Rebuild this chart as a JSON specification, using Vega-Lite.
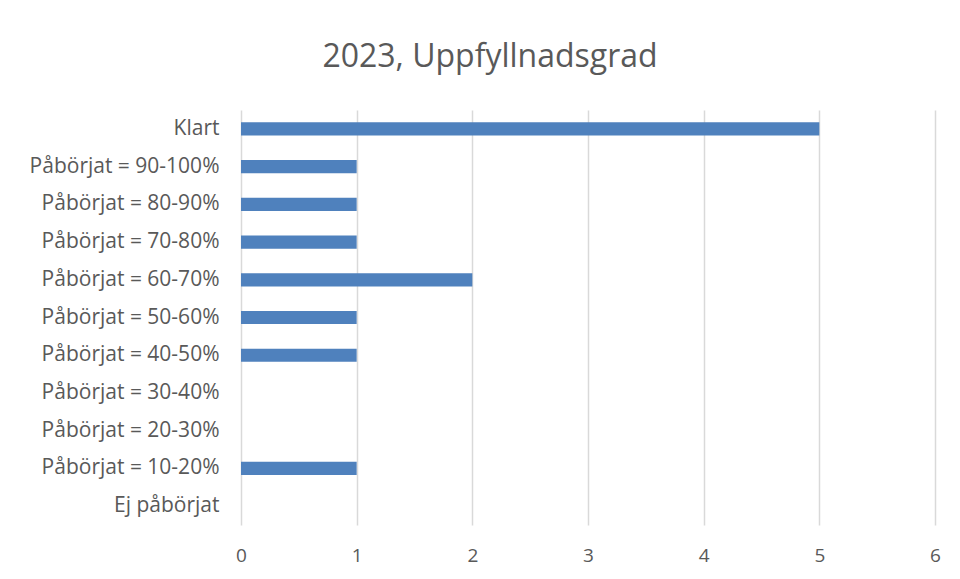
{
  "$schema": "https://vega.github.io/schema/vega-lite/v6.json",
  "autosize": "none",
  "width": 694,
  "height": 415,
  "padding": {"left": 241, "top": 110, "right": 25, "bottom": 54},
  "background": "white",
  "title": {
    "text": "2023, Uppfyllnadsgrad",
    "font": "Open Sans",
    "fontSize": 32,
    "fontWeight": "normal",
    "color": "#595959",
    "offset": 36,
    "dx": -98
  },
  "data": {
    "values": [
      {"kategori": "Klart", "antal": 5},
      {"kategori": "Påbörjat = 90-100%", "antal": 1},
      {"kategori": "Påbörjat = 80-90%", "antal": 1},
      {"kategori": "Påbörjat = 70-80%", "antal": 1},
      {"kategori": "Påbörjat = 60-70%", "antal": 2},
      {"kategori": "Påbörjat = 50-60%", "antal": 1},
      {"kategori": "Påbörjat = 40-50%", "antal": 1},
      {"kategori": "Påbörjat = 30-40%", "antal": 0},
      {"kategori": "Påbörjat = 20-30%", "antal": 0},
      {"kategori": "Påbörjat = 10-20%", "antal": 1},
      {"kategori": "Ej påbörjat", "antal": 0}
    ]
  },
  "mark": {"type": "bar", "color": "#4F81BD"},
  "encoding": {
    "y": {
      "field": "kategori",
      "type": "nominal",
      "sort": null,
      "scale": {"paddingInner": 0.65, "paddingOuter": 0.325},
      "axis": {
        "title": null,
        "domain": false,
        "ticks": false,
        "labelPadding": 22,
        "labelFont": "Open Sans",
        "labelFontSize": 21,
        "labelColor": "#595959",
        "labelLimit": 300
      }
    },
    "x": {
      "field": "antal",
      "type": "quantitative",
      "scale": {"domain": [0, 6], "nice": false},
      "axis": {
        "title": null,
        "values": [0, 1, 2, 3, 4, 5, 6],
        "domain": false,
        "ticks": false,
        "grid": true,
        "gridColor": "#d9d9d9",
        "gridWidth": 1.5,
        "labelFlush": false,
        "labelPadding": 21,
        "labelFont": "Open Sans",
        "labelFontSize": 19,
        "labelColor": "#595959"
      }
    }
  },
  "config": {"view": {"stroke": null}}
}
